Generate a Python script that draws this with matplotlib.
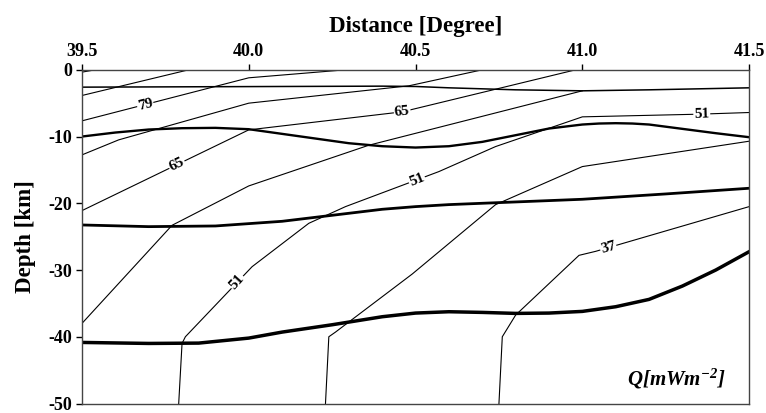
import numpy as np
import matplotlib
matplotlib.use('Agg')
import matplotlib.pyplot as plt

plt.rcParams['font.family'] = ['Liberation Serif', 'DejaVu Serif']
plt.rcParams['font.weight'] = 'bold'
plt.rcParams['axes.unicode_minus'] = False
plt.rcParams['mathtext.fontset'] = 'custom'
plt.rcParams['mathtext.it'] = 'Liberation Serif:bold:italic'
plt.rcParams['mathtext.rm'] = 'Liberation Serif:bold:italic'

# layer boundaries (thick lines)
b1_x = [39.5, 39.8, 40.1, 40.4, 40.5, 40.6, 40.8, 41.0, 41.2, 41.5]
b1_y = [-2.6, -2.55, -2.5, -2.45, -2.5, -2.7, -3.0, -3.15, -3.0, -2.7]

b2_x = [39.5, 39.6, 39.7, 39.8, 39.9, 40.0, 40.1, 40.2, 40.3, 40.4, 40.5,
        40.6, 40.7, 40.8, 40.9, 41.0, 41.05, 41.1, 41.15, 41.2, 41.3, 41.4, 41.5]
b2_y = [-10.0, -9.4, -8.95, -8.75, -8.7, -8.9, -9.6, -10.3, -11.0, -11.45, -11.65,
        -11.45, -10.8, -9.8, -8.8, -8.2, -8.05, -8.0, -8.05, -8.2, -8.85, -9.5, -10.1]

b3_x = [39.5, 39.7, 39.9, 40.1, 40.25, 40.4, 40.5, 40.6, 40.8, 41.0, 41.25, 41.5]
b3_y = [-23.25, -23.5, -23.4, -22.7, -21.8, -20.9, -20.5, -20.2, -19.8, -19.4, -18.6, -17.75]

b4_x = [39.5, 39.7, 39.85, 40.0, 40.1, 40.25, 40.4, 40.5, 40.6, 40.7, 40.8, 40.9, 41.0,
        41.1, 41.2, 41.3, 41.4, 41.5]
b4_y = [-40.85, -41.0, -40.95, -40.2, -39.3, -38.2, -37.0, -36.45, -36.25, -36.35, -36.5, -36.45, -36.2,
        -35.5, -34.4, -32.4, -30.0, -27.25]

# heat flow isolines (thin lines)
c1_x = [39.5, 39.54]
c1_y = [-0.35, 0.0]
c2_x = [39.5, 39.82]
c2_y = [-3.85, 0.0]
c3_x = [39.5, 40.0, 40.29]
c3_y = [-7.65, -1.2, 0.0]
c4_x = [39.5, 39.61, 40.0, 40.48, 40.7]
c4_y = [-12.75, -10.5, -5.0, -2.4, 0.0]
c5_x = [39.5, 40.0, 40.46, 40.98]
c5_y = [-21.1, -9.0, -6.3, 0.0]
c6_x = [39.5, 39.77, 40.0, 40.36, 41.0]
c6_y = [-38.0, -23.3, -17.4, -11.3, -3.15]
c7_x = [39.79, 39.8, 39.81, 40.01, 40.18, 40.29, 40.57, 40.74, 41.0, 41.35, 41.5]
c7_y = [-50.0, -41.0, -40.0, -29.5, -23.0, -20.5, -15.25, -11.5, -7.05, -6.65, -6.4]
c8_x = [40.23, 40.24, 40.26, 40.49, 40.74, 41.0, 41.5]
c8_y = [-50.0, -40.0, -39.3, -30.6, -20.2, -14.5, -10.7]
c9_x = [40.75, 40.76, 40.8, 40.99, 41.04, 41.5]
c9_y = [-50.0, -40.0, -36.75, -27.8, -27.2, -20.5]

lab_text = ['79', '65', '65', '51', '51', '51', '37']
lab_x = [39.69, 39.785, 40.46, 39.964, 40.504, 41.358, 41.078]
lab_y = [-5.25, -14.25, -6.3, -31.75, -16.5, -6.65, -26.7]
lab_rot = [14, 26, 6, 48, 22, 2, 16]

fig = plt.figure(figsize=(7.66, 4.13), dpi=100)
ax = fig.add_axes([0.107, 0.023, 0.871, 0.808])

for xs, ys in [(c1_x, c1_y), (c2_x, c2_y), (c3_x, c3_y), (c4_x, c4_y), (c5_x, c5_y),
               (c6_x, c6_y), (c7_x, c7_y), (c8_x, c8_y), (c9_x, c9_y)]:
    ax.plot(xs, ys, color='black', lw=0.8)

ax.plot(b1_x, b1_y, color='black', lw=1.1, solid_joinstyle='round')
ax.plot(b2_x, b2_y, color='black', lw=1.7, solid_joinstyle='round')
ax.plot(b3_x, b3_y, color='black', lw=2.0, solid_joinstyle='round')
ax.plot(b4_x, b4_y, color='black', lw=2.5, solid_joinstyle='round')

for t, x, y, r in zip(lab_text, lab_x, lab_y, lab_rot):
    ax.text(x, y, t, rotation=r, rotation_mode='anchor', ha='center', va='center',
            fontsize=11, fontweight='bold', zorder=5,
            bbox=dict(facecolor='white', edgecolor='none', pad=0.5))

ax.text(41.43, -46.3, r'$Q[mWm^{-2}]$', fontsize=15, ha='right', va='center')

ax.set_xlim(39.5, 41.5)
ax.set_ylim(-50, 0)
ax.xaxis.tick_top()
ax.xaxis.set_label_position('top')
ax.set_xticks([39.5, 40.0, 40.5, 41.0, 41.5])
ax.set_xticklabels(['39.5', '40.0', '40.5', '41.0', '41.5'])
ax.set_yticks([0, -10, -20, -30, -40, -50])
ax.tick_params(labelsize=13, direction='out', length=4, width=1, pad=3)
ax.set_xlabel('Distance [Degree]', fontsize=16.5, fontweight='bold', labelpad=8)
ax.set_ylabel('Depth [km]', fontsize=16.5, fontweight='bold', labelpad=9)
for s in ax.spines.values():
    s.set_color('#444444')
    s.set_linewidth(1.0)

fig.savefig('out.png', dpi=100)
